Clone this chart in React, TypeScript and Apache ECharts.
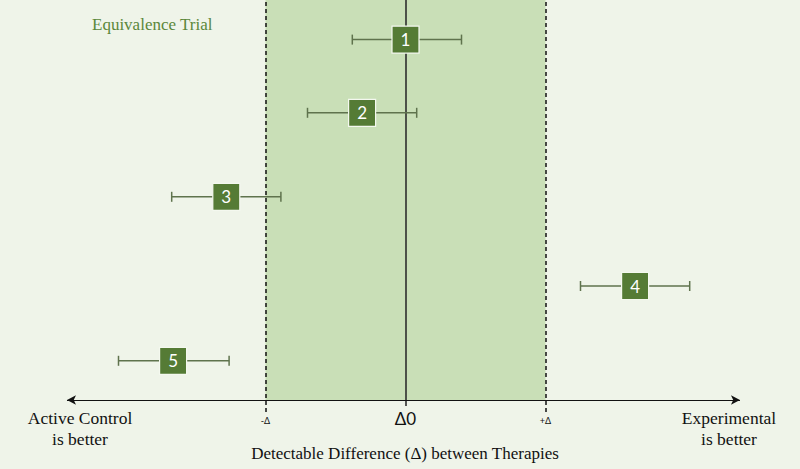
import React, { useEffect, useRef } from "react";
import * as echarts from "echarts";

// ---- data ----
const trialLabels = ["1", "2", "3", "4", "5"];
const rowPositions = [9.01, 7.18, 5.08, 2.85, 0.98];
const estimates = [0.0, -0.31, -1.28, 1.64, -1.66];
const lowerCI = [-0.38, -0.7, -1.67, 1.25, -2.05];
const upperCI = [0.4, 0.08, -0.89, 2.03, -1.26];
const marginValues = [-1, 1];
const marginLabels = ["-Δ", "+Δ"];
const nullValue = 0;
const nullLabel = "Δ0";
const axisEnds = [-2.418, 2.389];

const title = "Equivalence Trial";
const leftNote = "Active Control\nis better";
const rightNote = "Experimental\nis better";
const axisTitle = "Detectable Difference (Δ) between Therapies";

const BG = "#eff4e9";
const SHADE = "#c9dfb7";
const BOX = "#557b35";
const BAR = "#5f734d";
const SERIF = "'Liberation Serif', 'Times New Roman', serif";
const SANS = "Lato, 'Open Sans', sans-serif";

export default function App() {
  const ref = useRef<HTMLDivElement>(null);
  useEffect(() => {
    if (!ref.current) return;
    const chart = echarts.init(ref.current, null, { renderer: "svg" });
    const data = trialLabels.map((l, i) => [rowPositions[i], estimates[i], lowerCI[i], upperCI[i], l]);
    chart.setOption({
      animation: false,
      backgroundColor: BG,
      grid: { left: 55.5, right: 44.5, top: 0, bottom: 9 },
      xAxis: { type: "value", min: -2.5, max: 2.5, show: false },
      yAxis: { type: "value", min: -1.5, max: 10, show: false },
      series: [
        {
          type: "line",
          data: [],
          silent: true,
          z: 1,
          markArea: {
            silent: true,
            itemStyle: { color: SHADE },
            data: [[{ coord: [marginValues[0], 0] }, { coord: [marginValues[1], 10] }]],
          },
          markLine: {
            silent: true,
            symbol: "none",
            animation: false,
            data: [
              ...marginValues.map((v, i) => [
                {
                  coord: [v, -0.3],
                  lineStyle: { color: "#111", width: 1.5, type: [4, 3] },
                  label: {
                    show: true,
                    position: "start",
                    formatter: marginLabels[i],
                    fontSize: 9,
                    fontFamily: SANS,
                    color: "#111",
                    distance: 4,
                  },
                },
                { coord: [v, 10] },
              ]),
              [
                {
                  coord: [nullValue, -0.15],
                  lineStyle: { color: "#2e2e2e", width: 1.6, type: "solid" },
                  label: {
                    show: true,
                    position: "start",
                    formatter: nullLabel,
                    fontSize: 17,
                    fontFamily: SANS,
                    color: "#111",
                    distance: 4,
                  },
                },
                { coord: [nullValue, 10] },
              ],
            ],
          },
        },
        {
          type: "line",
          data: [],
          silent: true,
          z: 2,
          markLine: {
            silent: true,
            symbol: ["arrow", "arrow"],
            symbolSize: [7, 9],
            label: { show: false },
            lineStyle: { color: "#111", width: 1.2, type: "solid" },
            data: [[{ coord: [axisEnds[0], 0] }, { coord: [axisEnds[1], 0] }]],
          },
        },
        {
          type: "custom",
          z: 5,
          silent: true,
          data,
          renderItem: (params: any, api: any) => {
            const y = api.value(0);
            const c = api.coord([api.value(1), y]);
            const lo = api.coord([api.value(2), y]);
            const hi = api.coord([api.value(3), y]);
            const cap = 5;
            const s = 27;
            return {
              type: "group",
              children: [
                { type: "line", shape: { x1: lo[0], y1: lo[1], x2: hi[0], y2: hi[1] }, style: { stroke: BAR, lineWidth: 1.5 } },
                { type: "line", shape: { x1: lo[0], y1: lo[1] - cap, x2: lo[0], y2: lo[1] + cap }, style: { stroke: BAR, lineWidth: 1.5 } },
                { type: "line", shape: { x1: hi[0], y1: hi[1] - cap, x2: hi[0], y2: hi[1] + cap }, style: { stroke: BAR, lineWidth: 1.5 } },
                {
                  type: "rect",
                  shape: { x: c[0] - s / 2, y: c[1] - s / 2, width: s, height: s },
                  style: { fill: BOX, stroke: "#f4f8ef", lineWidth: 1.2 },
                },
                {
                  type: "text",
                  x: c[0],
                  y: c[1],
                  style: {
                    text: String(api.value(4)),
                    fill: "#ffffff",
                    font: `17px ${SANS}`,
                    align: "center",
                    verticalAlign: "middle",
                  },
                },
              ],
            };
          },
        },
      ],
      graphic: [
        {
          type: "text",
          left: 92,
          top: 16,
          style: { text: title, fill: "#5b873a", font: `17px ${SERIF}` },
        },
        {
          type: "text",
          x: 80,
          y: 428,
          style: { text: leftNote, fill: "#111", font: `17.5px ${SERIF}`, align: "center", verticalAlign: "middle", lineHeight: 21 },
        },
        {
          type: "text",
          x: 729,
          y: 428,
          style: { text: rightNote, fill: "#111", font: `17.5px ${SERIF}`, align: "center", verticalAlign: "middle", lineHeight: 21 },
        },
        {
          type: "text",
          x: 405,
          y: 453,
          style: { text: axisTitle, fill: "#111", font: `17px ${SERIF}`, align: "center", verticalAlign: "middle" },
        },
      ],
    });
    return () => chart.dispose();
  }, []);
  return <div ref={ref} style={{ position: "fixed", left: 0, top: 0, width: 800, height: 469 }} />;
}
